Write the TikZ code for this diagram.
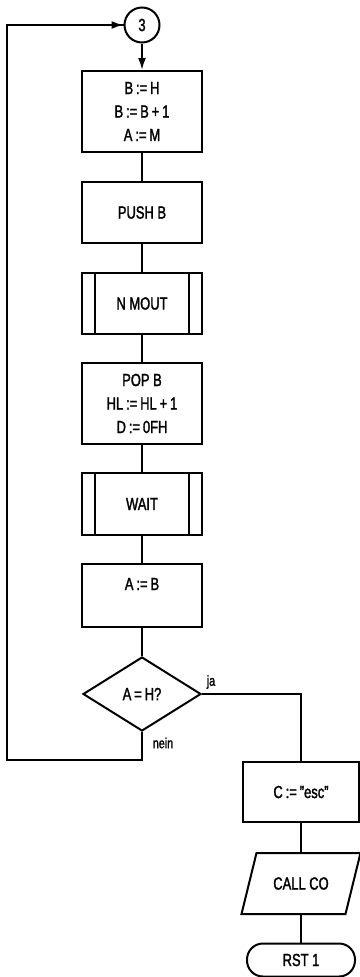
\documentclass[tikz,border=0pt]{standalone}
\usepackage{fontspec}
\setmainfont[FakeStretch=0.74, FakeBold=1.6]{Liberation Sans}
\usetikzlibrary{arrows.meta,shapes.geometric}
\tikzset{
  flow/.style={line width=2pt},
  box/.style={draw, line width=2pt, rectangle, align=center, inner sep=0pt,
    font=\fontsize{17.5}{23.5}\selectfont},
  lbl/.style={font=\fontsize{14.5}{16}\selectfont, inner sep=0pt},
  arr/.style={flow, -{Latex[length=12pt,width=8pt]}}
}
\begin{document}
\begin{tikzpicture}[x=1pt,y=-1pt]
\useasboundingbox (0,0) rectangle (359,977);
% nodes
\node[draw, circle, line width=2pt, minimum size=35pt, inner sep=0pt, font=\fontsize{17.5}{18}\selectfont] (c3) at (142,25) {3};
\node[box, minimum width=120pt, minimum height=81pt] (b1) at (142,111.5) {B\,:=\,H\\B\,:=\,B\,+\,1\\A\,:=\,M};
\node[box, minimum width=120pt, minimum height=61pt] (b2) at (142,212.5) {PUSH B};
\node[box, minimum width=120pt, minimum height=61pt] (b3) at (142,303.5) {N MOUT};
\node[box, minimum width=120pt, minimum height=81pt] (b4) at (142,403.5) {POP B\\HL\,:=\,HL\,+\,1\\D\,:=\,0FH};
\node[box, minimum width=120pt, minimum height=62pt] (b5) at (142,504) {WAIT};
\node[box, minimum width=120pt, minimum height=63pt, text height=13pt, text depth=24pt] (b6) at (142,595.5) {A\,:=\,B};
\node[draw, diamond, line width=2pt, minimum width=118pt, minimum height=74pt, inner sep=0pt, font=\fontsize{17.5}{18}\selectfont] (d) at (142,694) {A\,=\,H?};
\node[box, minimum width=116pt, minimum height=60pt] (c) at (301,792) {C\,:=\,"esc"};
\node[box, draw=none, minimum width=102pt, minimum height=59pt] (p) at (301,883.5) {CALL CO};
\node[box, rounded corners=16pt, minimum width=108pt, minimum height=33pt] (r) at (301,960) {RST 1};
% predefined process bars
\draw[flow] ([xshift=14pt]b3.north west) -- ([xshift=14pt]b3.south west);
\draw[flow] ([xshift=-14pt]b3.north east) -- ([xshift=-14pt]b3.south east);
\draw[flow] ([xshift=14pt]b5.north west) -- ([xshift=14pt]b5.south west);
\draw[flow] ([xshift=-14pt]b5.north east) -- ([xshift=-14pt]b5.south east);
% parallelogram outline
\draw[flow, line join=miter] ([xshift=7.5pt]p.north west) -- ([xshift=7.5pt]p.north east)
  -- ([xshift=-7.5pt]p.south east) -- ([xshift=-7.5pt]p.south west) -- cycle;
% labels
\node[lbl] (ja) at (211,682) {ja};
\node[lbl] (nein) at (163,743) {nein};
% connectors
\draw[arr] (c3) -- (b1);
\draw[flow] (b1) -- (b2);
\draw[flow] (b2) -- (b3);
\draw[flow] (b3) -- (b4);
\draw[flow] (b4) -- (b5);
\draw[flow] (b5) -- (b6);
\draw[flow] (b6) -- (d);
\draw[flow] (d.east) -| (c.north);
\draw[flow] (c) -- (p.north);
\draw[flow] (p.south) -- (r);
\coordinate (nb) at (142,760);
\coordinate (lb) at (7,760);
\coordinate (lt) at (7,25);
\draw[flow, line join=miter] (d.south) -- (nb) -- (lb) -- (lt) -- (c3.west);
\draw[arr] (lt) -- (c3.west);
\end{tikzpicture}
\end{document}
